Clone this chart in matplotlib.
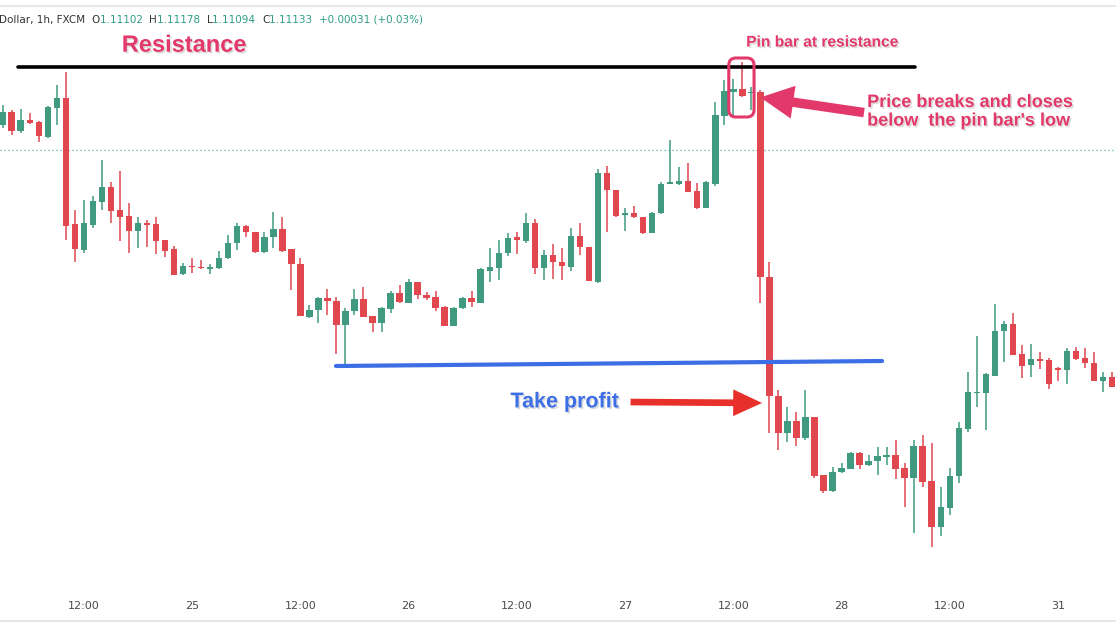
"""EUR/USD 1h pin-bar trade: resistance, pin bar, breakdown and take-profit.

Candles are read off a TradingView screenshot; the price axis is hidden there,
so values are kept as chart levels (higher = higher price).

Output: out.png (1116x628)
"""

from __future__ import annotations

import matplotlib

matplotlib.use("Agg")

import matplotlib.pyplot as plt
import numpy as np
from matplotlib import patheffects
from matplotlib.patches import FancyArrowPatch, FancyBboxPatch

# ---- data: one candle per hour --------------------------------------------
opens = [
    475, 488, 469, 480, 478, 463, 492, 502, 376, 350, 375, 398, 413, 390, 384, 369, 377, 376, 360, 351,
    326, 334, 333, 331, 332, 342, 357, 374, 368, 348, 363, 371, 351, 336, 283, 290, 302, 299, 275, 289,
    301, 284, 277, 291, 307, 297, 318, 305, 303, 293, 274, 292, 302, 297, 329, 332, 347, 363, 359, 377,
    332, 345, 338, 333, 364, 353, 318, 427, 410, 385, 387, 383, 367, 387, 416, 416, 419, 409, 392, 416,
    484, 508, 511, 507, 508, 323, 204, 167, 179, 162, 183, 125, 109, 128, 131, 147, 135, 139, 143, 145,
    132, 122, 154, 119, 73, 92, 124, 171, 207, 207, 224, 269, 276, 246, 235, 241, 240, 232, 230, 249,
    242, 237, 219, 223,
]
highs = [
    495, 490, 491, 487, 479, 494, 515, 528, 390, 400, 404, 440, 418, 429, 397, 383, 380, 383, 360, 354,
    337, 342, 340, 336, 349, 365, 377, 375, 368, 368, 388, 383, 351, 342, 295, 303, 311, 303, 292, 311,
    313, 284, 293, 309, 315, 321, 318, 308, 309, 294, 293, 303, 309, 332, 352, 360, 367, 368, 387, 381,
    350, 356, 352, 372, 377, 353, 431, 434, 410, 392, 394, 383, 388, 418, 460, 433, 437, 417, 419, 498,
    520, 521, 538, 513, 510, 338, 210, 193, 188, 210, 183, 125, 133, 137, 148, 148, 145, 153, 153, 160,
    137, 160, 165, 157, 113, 132, 178, 228, 264, 227, 296, 279, 287, 255, 256, 248, 242, 233, 252, 253,
    252, 248, 228, 228,
]
lows = [
    472, 465, 467, 476, 458, 462, 475, 360, 338, 347, 372, 390, 377, 359, 347, 352, 353, 346, 343, 325,
    325, 327, 331, 326, 331, 341, 350, 363, 347, 347, 352, 348, 310, 284, 282, 277, 285, 246, 235, 285,
    283, 268, 268, 287, 297, 297, 301, 300, 289, 274, 274, 291, 293, 297, 318, 320, 344, 346, 357, 326,
    320, 321, 320, 329, 345, 319, 317, 368, 383, 369, 382, 366, 367, 386, 416, 415, 408, 391, 392, 414,
    475, 482, 503, 490, 297, 167, 150, 158, 154, 160, 122, 107, 108, 127, 131, 131, 134, 125, 135, 121,
    93, 67, 113, 53, 64, 85, 117, 168, 193, 170, 224, 238, 245, 222, 223, 231, 211, 219, 216, 240,
    232, 219, 208, 213,
]
closes = [
    488, 469, 480, 477, 464, 493, 502, 374, 351, 377, 399, 413, 389, 383, 369, 377, 375, 359, 349, 325,
    334, 333, 332, 333, 342, 357, 374, 368, 348, 363, 371, 349, 336, 284, 290, 302, 299, 275, 289, 301,
    283, 277, 292, 307, 298, 318, 305, 302, 292, 274, 292, 302, 298, 331, 333, 347, 362, 360, 377, 332,
    345, 338, 334, 364, 353, 319, 427, 410, 384, 387, 383, 367, 387, 416, 418, 419, 408, 392, 418, 485,
    509, 511, 504, 508, 323, 204, 167, 179, 162, 183, 124, 109, 128, 132, 147, 135, 139, 144, 145, 131,
    122, 154, 118, 73, 93, 124, 172, 208, 208, 226, 269, 276, 245, 234, 241, 239, 216, 230, 249, 241,
    237, 219, 223, 213,
]
tick_labels = ["12:00", "25", "12:00", "26", "12:00", "27", "12:00", "28", "12:00", "31"]
tick_index = [9, 21, 33, 45, 57, 69, 81, 93, 105, 117]

# trade levels
resistance_level = 533
take_profit_levels = (234, 239)
last_price_level = 450
pin_bar_index = 82

UP = "#3f9a80"
DOWN = "#e0474f"
PINK = "#e2386a"
BLUE = "#3c6ee6"
ARROW_RED = "#e8302a"
TEAL = "#2e9e84"


def _draw_candles(ax, o, h, l, c) -> None:
    o, h, l, c = map(np.asarray, (o, h, l, c))
    x = np.arange(len(o))
    colors = np.where(c >= o, UP, DOWN)
    ax.vlines(x, l, h, colors=colors, lw=1.1, zorder=2)
    body = np.abs(c - o)
    height = np.maximum(body, 1.8)  # dojis still get a visible body
    bottom = np.minimum(o, c) - (height - body) / 2
    ax.bar(x, height, bottom=bottom, width=0.72, color=colors, edgecolor="none", zorder=3)


def main() -> None:
    fig = plt.figure(figsize=(11.16, 6.28), dpi=100)
    ax = fig.add_axes([0, 0, 1, 1])
    ax.set_xlim(-0.3, 123.43)
    ax.set_ylim(-28, 600)
    ax.axis("off")

    _draw_candles(ax, opens, highs, lows, closes)

    # panel borders
    for yf in (1 - 6 / 628, 1 - 621 / 628):
        fig.add_artist(plt.Line2D([0, 1], [yf, yf], color="#e8e8e8", lw=1.5,
                                  transform=fig.transFigure))

    # last-price dotted line
    ax.axhline(last_price_level, color="#5aa6a0", lw=0.9, ls=(0, (1, 2.2)), zorder=1)

    # resistance + take profit lines
    ax.plot([1.7, 101.1], [resistance_level, resistance_level], color="black", lw=2.6,
            solid_capstyle="round", zorder=4)
    ax.plot([36.95, 97.5], list(take_profit_levels), color=BLUE, lw=3.0,
            solid_capstyle="round", zorder=4)

    shadow = [patheffects.withSimplePatchShadow(offset=(1.2, -1.2), alpha=0.25,
                                                shadow_rgbFace="#777777")]
    bold = dict(fontfamily="Liberation Sans", fontweight="bold")

    ax.text(0.165, 0.928, "Resistance", transform=ax.transAxes, ha="center", va="center",
            fontsize=17, color=PINK, path_effects=shadow, **bold)
    ax.text(0.7366, 0.933, "Pin bar at resistance", transform=ax.transAxes, ha="center",
            va="center", fontsize=11.2, color=PINK, path_effects=shadow, **bold)
    ax.text(0.777, 0.822, "Price breaks and closes\nbelow  the pin bar's low",
            transform=ax.transAxes, ha="left", va="center", fontsize=13, color=PINK,
            linespacing=1.12, path_effects=shadow, **bold)
    ax.text(0.506, 0.36, "Take profit", transform=ax.transAxes, ha="center", va="center",
            fontsize=15.5, color=BLUE, path_effects=shadow, **bold)

    # box around the pin bar (x in candles, y in levels -> aspect fix)
    box = FancyBboxPatch((pin_bar_index - 1.5, 483), 2.8, 59,
                         boxstyle="round,pad=0,rounding_size=0.8", mutation_aspect=9.02,
                         fill=False, edgecolor=PINK, lw=2.2, zorder=5)
    ax.add_patch(box)

    ax.add_patch(FancyArrowPatch((95.8, 487), (83.7, 503),
                                 arrowstyle="simple,head_length=1.4,head_width=1.4,tail_width=0.4",
                                 mutation_scale=17, color=PINK, lw=0, zorder=6))
    ax.add_patch(FancyArrowPatch((69.3, 198), (84.5, 197),
                                 arrowstyle="simple,head_length=1.3,head_width=1.2,tail_width=0.3",
                                 mutation_scale=16, color=ARROW_RED, lw=0, zorder=6))

    # time labels
    for i, lab in zip(tick_index, tick_labels):
        ax.text(i, 1 - 606 / 628, lab, transform=ax.get_xaxis_transform(), ha="center",
                va="center", fontsize=8, color="#4a4a4a")

    # symbol / OHLC header
    parts = [
        ("Dollar, 1h, FXCM  ", "#333333"), ("O", "#333333"), ("1.11102  ", TEAL),
        ("H", "#333333"), ("1.11178  ", TEAL), ("L", "#333333"), ("1.11094  ", TEAL),
        ("C", "#333333"), ("1.11133  ", TEAL), ("+0.00031 (+0.03%)", TEAL),
    ]
    prev = ax.text(-1 / 1116, 1 - 20 / 628, parts[0][0], transform=ax.transAxes, ha="left",
                   va="center", fontsize=7.5, color=parts[0][1])
    for txt, col in parts[1:]:
        prev = ax.annotate(txt, xy=(1, 0.5), xycoords=prev, ha="left", va="center",
                           fontsize=7.5, color=col)

    fig.savefig("out.png", dpi=100)


if __name__ == "__main__":
    main()
